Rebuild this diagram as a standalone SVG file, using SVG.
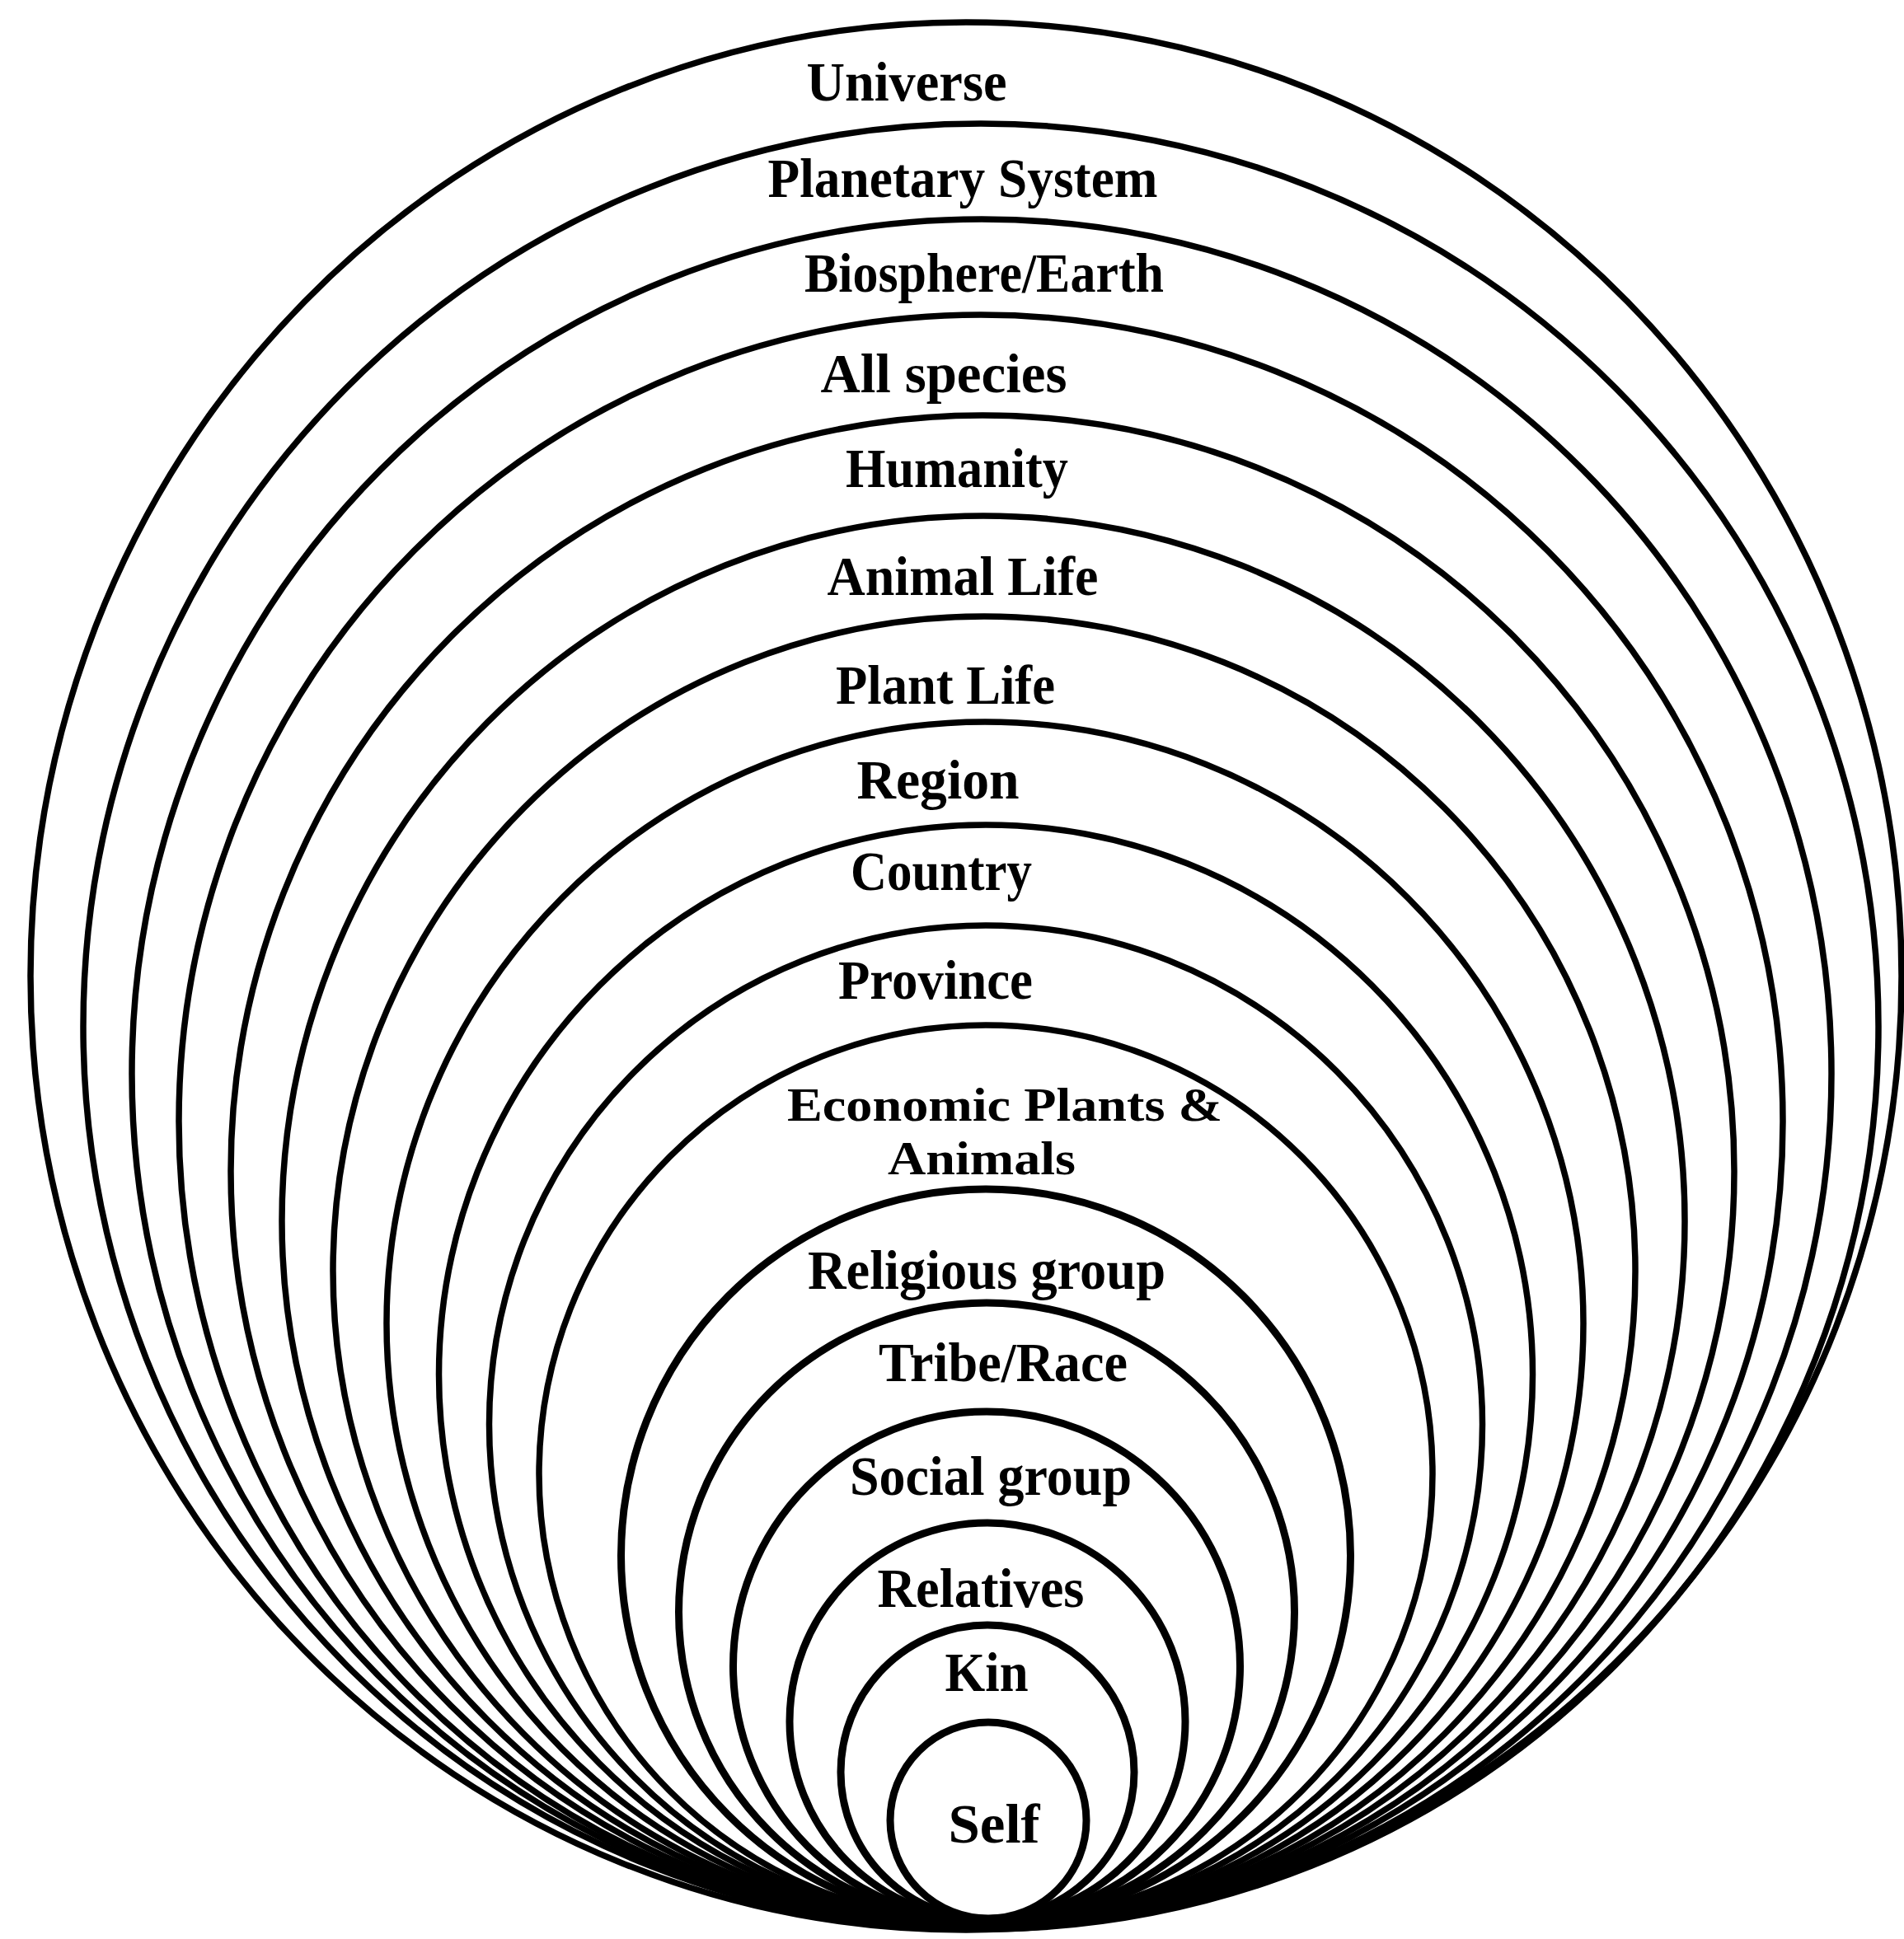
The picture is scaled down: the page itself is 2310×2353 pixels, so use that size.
<svg xmlns="http://www.w3.org/2000/svg" width="2310" height="2353" viewBox="0 0 2310 2353">
<style>
.ring{fill:none;stroke:#000;stroke-width:7.5}
.ring.in{stroke-width:9}
.lbl{font-family:"Liberation Serif","Times New Roman",serif;font-weight:bold;font-size:68px;fill:#000;text-anchor:middle}
.lbl.sm{font-size:58px}
</style>
<rect x="0" y="0" width="2310" height="2353" fill="#fff"/>
<g id="universe"><ellipse class="ring" cx="1172" cy="1184.5" rx="1135" ry="1157.5"/><text class="lbl" x="1100" y="122" textLength="243" lengthAdjust="spacingAndGlyphs">Universe</text></g>
<g id="planetary-system"><ellipse class="ring" cx="1190" cy="1245.6" rx="1089" ry="1095.6"/><text class="lbl" x="1168" y="239" textLength="473" lengthAdjust="spacingAndGlyphs">Planetary System</text></g>
<g id="biosphere-earth"><ellipse class="ring" cx="1191" cy="1303.1" rx="1031" ry="1037.1"/><text class="lbl" x="1194" y="354" textLength="436" lengthAdjust="spacingAndGlyphs">Biosphere/Earth</text></g>
<g id="all-species"><ellipse class="ring" cx="1190" cy="1360.7" rx="973" ry="978.7"/><text class="lbl" x="1145" y="476" textLength="299" lengthAdjust="spacingAndGlyphs">All species</text></g>
<g id="humanity"><ellipse class="ring" cx="1192" cy="1421.3" rx="912" ry="917.3"/><text class="lbl" x="1161" y="591" textLength="270" lengthAdjust="spacingAndGlyphs">Humanity</text></g>
<g id="animal-life"><ellipse class="ring" cx="1193" cy="1481.8" rx="851" ry="855.8"/><text class="lbl" x="1168" y="722" textLength="329" lengthAdjust="spacingAndGlyphs">Animal Life</text></g>
<g id="plant-life"><ellipse class="ring" cx="1194" cy="1542.4" rx="790" ry="794.4"/><text class="lbl" x="1147" y="854" textLength="266" lengthAdjust="spacingAndGlyphs">Plant Life</text></g>
<g id="region"><ellipse class="ring" cx="1195" cy="1605.9" rx="726" ry="729.9"/><text class="lbl" x="1138" y="969" textLength="197" lengthAdjust="spacingAndGlyphs">Region</text></g>
<g id="country"><ellipse class="ring" cx="1196" cy="1668" rx="663.5" ry="667"/><text class="lbl" x="1142" y="1080" textLength="220" lengthAdjust="spacingAndGlyphs">Country</text></g>
<g id="province"><ellipse class="ring" cx="1196" cy="1728.6" rx="602.5" ry="605.6"/><text class="lbl" x="1135" y="1212" textLength="236" lengthAdjust="spacingAndGlyphs">Province</text></g>
<g id="economic-plants-animals"><ellipse class="ring" cx="1196" cy="1788.6" rx="542" ry="544.6"/><text class="lbl sm" x="1219" y="1360" textLength="528" lengthAdjust="spacingAndGlyphs">Economic Plants &amp;</text><text class="lbl sm" x="1191" y="1425" textLength="228" lengthAdjust="spacingAndGlyphs">Animals</text></g>
<g id="religious-group"><ellipse class="ring in" cx="1196" cy="1887.7" rx="442.5" ry="444.7"/><text class="lbl" x="1197" y="1564" textLength="434" lengthAdjust="spacingAndGlyphs">Religious group</text></g>
<g id="tribe-race"><ellipse class="ring in" cx="1197" cy="1956.3" rx="373.5" ry="375.3"/><text class="lbl" x="1217" y="1676" textLength="302" lengthAdjust="spacingAndGlyphs">Tribe/Race</text></g>
<g id="social-group"><ellipse class="ring in" cx="1197" cy="2021.8" rx="307.5" ry="308.8"/><text class="lbl" x="1202" y="1814" textLength="342" lengthAdjust="spacingAndGlyphs">Social group</text></g>
<g id="relatives"><ellipse class="ring in" cx="1198" cy="2088.9" rx="240" ry="240.9"/><text class="lbl" x="1190" y="1950" textLength="251" lengthAdjust="spacingAndGlyphs">Relatives</text></g>
<g id="kin"><ellipse class="ring in" cx="1198" cy="2150.4" rx="178" ry="178.4"/><text class="lbl" x="1197" y="2052" textLength="101" lengthAdjust="spacingAndGlyphs">Kin</text></g>
<g id="self"><circle class="ring in" cx="1199" cy="2209" r="119"/><text class="lbl" x="1206" y="2236" textLength="111" lengthAdjust="spacingAndGlyphs">Self</text></g>
</svg>
